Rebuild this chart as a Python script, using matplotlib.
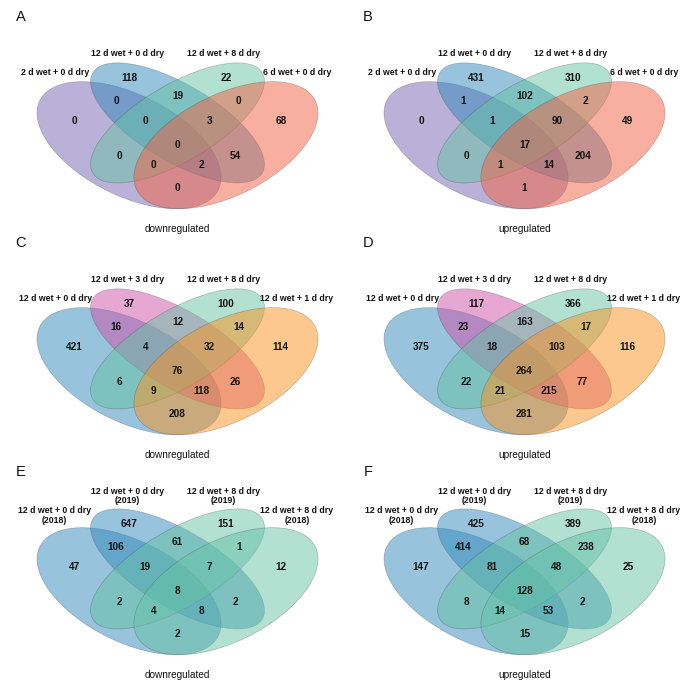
import matplotlib
matplotlib.use("Agg")
import matplotlib.pyplot as plt
from matplotlib.patches import Ellipse

plt.rcParams['font.family'] = ['Liberation Sans', 'DejaVu Sans']

# ---------------- data ----------------
# region keys: which sets (1..4) share the region
regions = ["1", "2", "3", "4", "12", "23", "34", "123", "234", "1234",
           "13", "24", "134", "124", "14"]

counts_A = [0, 118, 22, 68, 0, 19, 0, 0, 3, 0, 0, 54, 0, 2, 0]
counts_B = [0, 431, 310, 49, 1, 102, 2, 1, 90, 17, 0, 204, 1, 14, 1]
counts_C = [421, 37, 100, 114, 16, 12, 14, 4, 32, 76, 6, 26, 9, 118, 208]
counts_D = [375, 117, 366, 116, 23, 163, 17, 18, 103, 264, 22, 77, 21, 215, 281]
counts_E = [47, 647, 151, 12, 106, 61, 1, 19, 7, 8, 2, 2, 4, 8, 2]
counts_F = [147, 425, 389, 25, 414, 68, 238, 81, 48, 128, 8, 2, 14, 53, 15]

sets_AB = ["2 d wet + 0 d dry", "12 d wet + 0 d dry",
           "12 d wet + 8 d dry", "6 d wet + 0 d dry"]
sets_CD = ["12 d wet + 0 d dry", "12 d wet + 3 d dry",
           "12 d wet + 8 d dry", "12 d wet + 1 d dry"]
sets_EF = ["12 d wet + 0 d dry\n(2018)", "12 d wet + 0 d dry\n(2019)",
           "12 d wet + 8 d dry\n(2019)", "12 d wet + 8 d dry\n(2018)"]

panel_letters = ["A", "B", "C", "D", "E", "F"]
subtitles = ["downregulated", "upregulated"] * 3

# ---------------- style / layout ----------------
purple = "#7564B1"
blue = "#3288BD"
green = "#66C2A5"
red = "#F36141"
pink = "#D151A9"
orange = "#FB931F"
colors_AB = [purple, blue, green, red]
colors_CD = [blue, pink, green, orange]
colors_EF = [blue, blue, green, green]

# 4-set Venn ellipses (centre, semi-major, semi-minor, angle) in panel units
ELLIPSES = [((0.35, 0.47), 0.35, 0.20, -45),
            ((0.50, 0.57), 0.35, 0.15, -45),
            ((0.50, 0.57), 0.35, 0.15, 45),
            ((0.65, 0.47), 0.35, 0.20, 45)]
REGION_POS = {"1": (0.18, 0.58), "2": (0.35, 0.77), "3": (0.65, 0.77),
              "4": (0.82, 0.58), "12": (0.31, 0.67), "23": (0.50, 0.69),
              "34": (0.69, 0.67), "123": (0.40, 0.58), "234": (0.60, 0.58),
              "1234": (0.50, 0.47), "13": (0.32, 0.42), "24": (0.68, 0.42),
              "134": (0.425, 0.38), "124": (0.575, 0.38), "14": (0.50, 0.28)}

W, H = 685, 686
SX, SY = 323, 223  # pixels per panel unit

single_x = [0.121, 0.345, 0.643, 0.870]
single_y = [0.797, 0.882, 0.882, 0.797]
double_x = [0.118, 0.345, 0.643, 0.870]
double_y = [0.809, 0.897, 0.897, 0.809]
# (counts, set labels, colours, x0 px, y0 px, label xs, label ys, letter y px)
panels = [
    (counts_A, sets_AB, colors_AB, 16, 250, single_x, single_y, 17),
    (counts_B, sets_AB, colors_AB, 363, 250, single_x, single_y, 17),
    (counts_C, sets_CD, colors_CD, 16, 476, single_x, single_y, 243),
    (counts_D, sets_CD, colors_CD, 363, 476, single_x, single_y, 243),
    (counts_E, sets_EF, colors_EF, 16, 696, double_x, double_y, 472),
    (counts_F, sets_EF, colors_EF, 363, 696, double_x, double_y, 472),
]

fig = plt.figure(figsize=(W / 100, H / 100), dpi=100)

for i, (counts, setnames, cols, x0, y0, lx, ly, lety) in enumerate(panels):
    ax = fig.add_axes([x0 / W, 1 - y0 / H, SX / W, SY / H])
    ax.set_xlim(0, 1)
    ax.set_ylim(0, 1)
    ax.axis("off")
    for (c, a, b, ang), col in zip(ELLIPSES, cols):
        ax.add_patch(Ellipse(c, 2 * a, 2 * b, angle=ang, facecolor=col,
                             alpha=0.5, edgecolor="none", clip_on=False))
        ax.add_patch(Ellipse(c, 2 * a, 2 * b, angle=ang, facecolor="none",
                             edgecolor=(0.2, 0.2, 0.2, 0.3), linewidth=0.5,
                             clip_on=False))
    for key, val in zip(regions, counts):
        x, y = REGION_POS[key]
        ax.text(x, y, str(val), ha="center", va="center", fontsize=7.2,
                fontweight="bold", color="#111111", clip_on=False)
    for name, x, y in zip(setnames, lx, ly):
        ax.text(x, y, name, ha="center", va="center", fontsize=6.3,
                fontweight="bold", color="#111111", linespacing=1.1,
                clip_on=False)
    ax.text(0.5, 0.093, subtitles[i], ha="center", va="center", fontsize=7.2,
            color="#111111", clip_on=False)
    fig.text((x0 + 5) / W, 1 - lety / H, panel_letters[i], ha="center",
             va="center", fontsize=10.5, color="#111111")

fig.savefig("out.png", dpi=100)
